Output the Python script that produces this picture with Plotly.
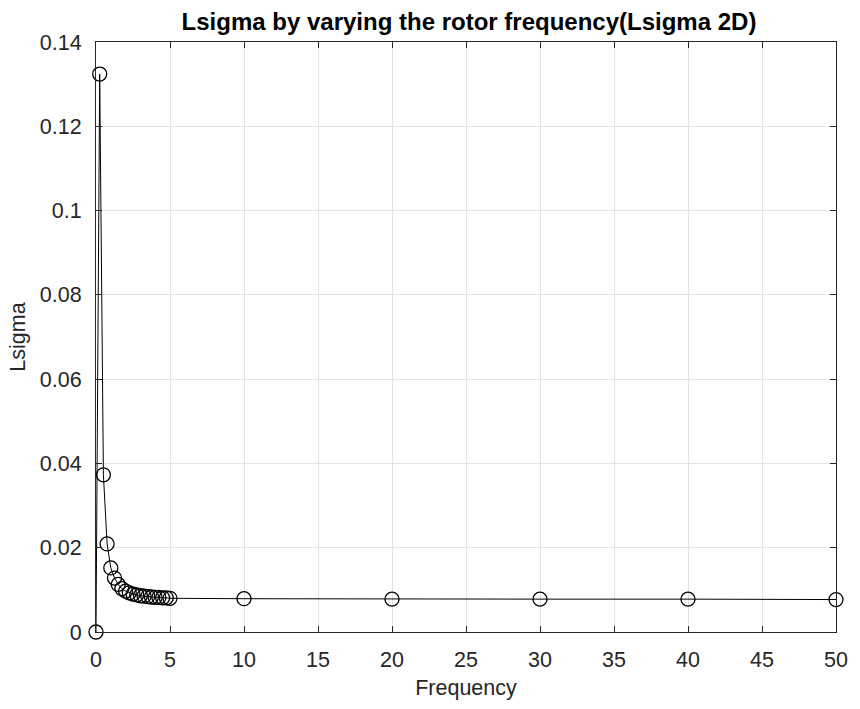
import plotly.graph_objects as go

# Data
frequency = [0, 0.25, 0.5, 0.75, 1.0, 1.25, 1.5, 1.75, 2.0, 2.25, 2.5, 2.75, 3.0,
             3.25, 3.5, 3.75, 4.0, 4.25, 4.5, 4.75, 5.0, 10, 20, 30, 40, 50]
lsigma = [0.0, 0.1324, 0.0373, 0.0209, 0.0152, 0.0128, 0.0113, 0.0103, 0.0097,
          0.0093, 0.0090, 0.0088, 0.0086, 0.0085, 0.0084, 0.0083, 0.0082, 0.0082,
          0.0081, 0.0081, 0.0080, 0.0079, 0.0078, 0.0078, 0.0078, 0.0077]

x_ticks = [0, 5, 10, 15, 20, 25, 30, 35, 40, 45, 50]
y_ticks = [0, 0.02, 0.04, 0.06, 0.08, 0.1, 0.12, 0.14]
y_tick_text = ["0", "0.02", "0.04", "0.06", "0.08", "0.1", "0.12", "0.14"]

font_family = "Liberation Sans, Arial, sans-serif"

fig = go.Figure()
fig.add_trace(go.Scatter(
    x=frequency, y=lsigma,
    mode="lines+markers",
    line=dict(color="black", width=1),
    marker=dict(symbol="circle-open", size=14, color="black", line=dict(width=1.3, color="black")),
    cliponaxis=False,
    showlegend=False,
))

axis_common = dict(
    showgrid=True, gridcolor="#e3e3e3", gridwidth=1,
    showline=True, linecolor="#262626", linewidth=1, mirror="ticks",
    ticks="inside", ticklen=6, tickcolor="#262626",
    zeroline=False,
    tickfont=dict(family=font_family, size=21.5, color="#262626"),
)

fig.update_layout(
    width=860, height=709,
    paper_bgcolor="white", plot_bgcolor="white",
    margin=dict(l=96, r=18, t=42, b=77),
    title=dict(
        text="<b>Lsigma by varying the rotor frequency(Lsigma 2D)</b>",
        x=(96 + 842) / 2 / 860, xanchor="center",
        y=1 - 22 / 709, yanchor="middle",
        font=dict(family=font_family, size=24, color="black"),
    ),
    xaxis=dict(
        range=[0, 50], tickvals=x_ticks, ticklabelstandoff=8,
        title=dict(text="Frequency", font=dict(family=font_family, size=21.5, color="#262626"), standoff=9),
        **axis_common,
    ),
    yaxis=dict(
        range=[0, 0.14], tickvals=y_ticks, ticktext=y_tick_text, ticklabelstandoff=9,
        title=dict(text="Lsigma", font=dict(family=font_family, size=21.5, color="#262626"), standoff=8),
        **axis_common,
    ),
)

fig.write_html("out.html")
